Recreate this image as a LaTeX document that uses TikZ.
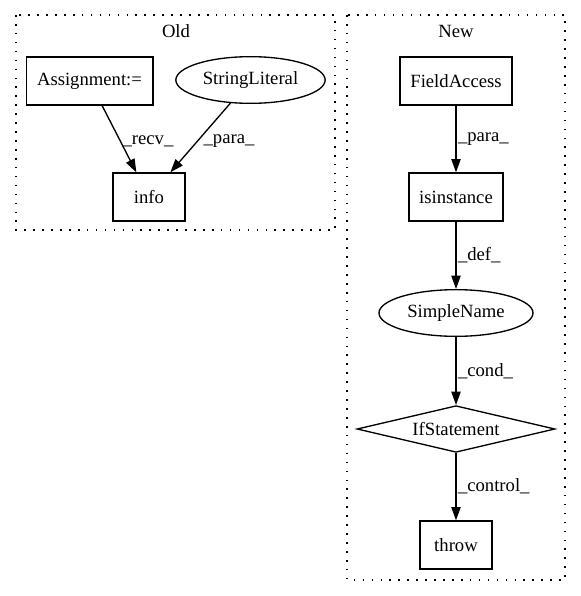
\documentclass[tikz,border=0pt]{standalone}
\usepackage{fontspec}
\setmainfont{Liberation Serif}
\usetikzlibrary{shapes.geometric,arrows.meta}
\begin{document}
\begin{tikzpicture}[x=0.75pt,y=-0.75pt,
  every node/.style={font=\fontsize{14}{16}\selectfont},
  box/.style={draw,rectangle,line width=1pt,minimum height=36pt,inner sep=0pt},
  oval/.style={draw,ellipse,line width=1pt,minimum height=35pt,inner sep=0pt},
  dia/.style={draw,diamond,aspect=4.24,line width=1pt,minimum height=35pt,inner sep=0pt},
  edge/.style={line width=1pt,-{Triangle[length=10pt,width=7pt]}},
  lbl/.style={inner sep=1pt,anchor=west},
  cluster/.style={line width=1pt,dash pattern=on 1.2pt off 5.5pt}]
\useasboundingbox (0,0) rectangle (581,596);
% clusters
\draw[cluster] (16,15) rectangle (335,230);
\draw[cluster] (347,15) rectangle (565,580);
\node (oldlbl) at (176,31) {Old};
\node (newlbl) at (456,31) {New};
% old nodes
\node[box,minimum width=95pt] (assign) at (89.5,81) {Assignment:=};
\node[oval,minimum width=112pt] (strlit) at (250.5,80) {StringLiteral};
\node[box,minimum width=54pt] (info) at (149,197) {info};
% new nodes
\node[box,minimum width=84pt] (field) at (456,81) {FieldAccess};
\node[box,minimum width=70.5pt] (isinst) at (456,197) {isinstance};
\node[oval,minimum width=115.5pt] (simple) at (456,313) {SimpleName};
\node[dia,minimum width=148.5pt] (ifst) at (456,429) {IfStatement};
\node[box,minimum width=54pt] (throw) at (456,545) {throw};
% edges
\draw[edge] (assign) -- (info);
\draw[edge] (strlit) -- (info);
\node[inner sep=1pt] (lrecv) at (148,141) {\_recv\_};
\node[inner sep=1pt] (lpara1) at (229,141) {\_para\_};
\draw[edge] (field) -- (isinst) node[lbl,pos=0.5] (lpara2) {\_para\_};
\draw[edge] (isinst) -- (simple) node[lbl,pos=0.5] (ldef) {\_def\_};
\draw[edge] (simple) -- (ifst) node[lbl,pos=0.5] (lcond) {\_cond\_};
\draw[edge] (ifst) -- (throw) node[lbl,pos=0.5] (lctrl) {\_control\_};
\end{tikzpicture}
\end{document}
